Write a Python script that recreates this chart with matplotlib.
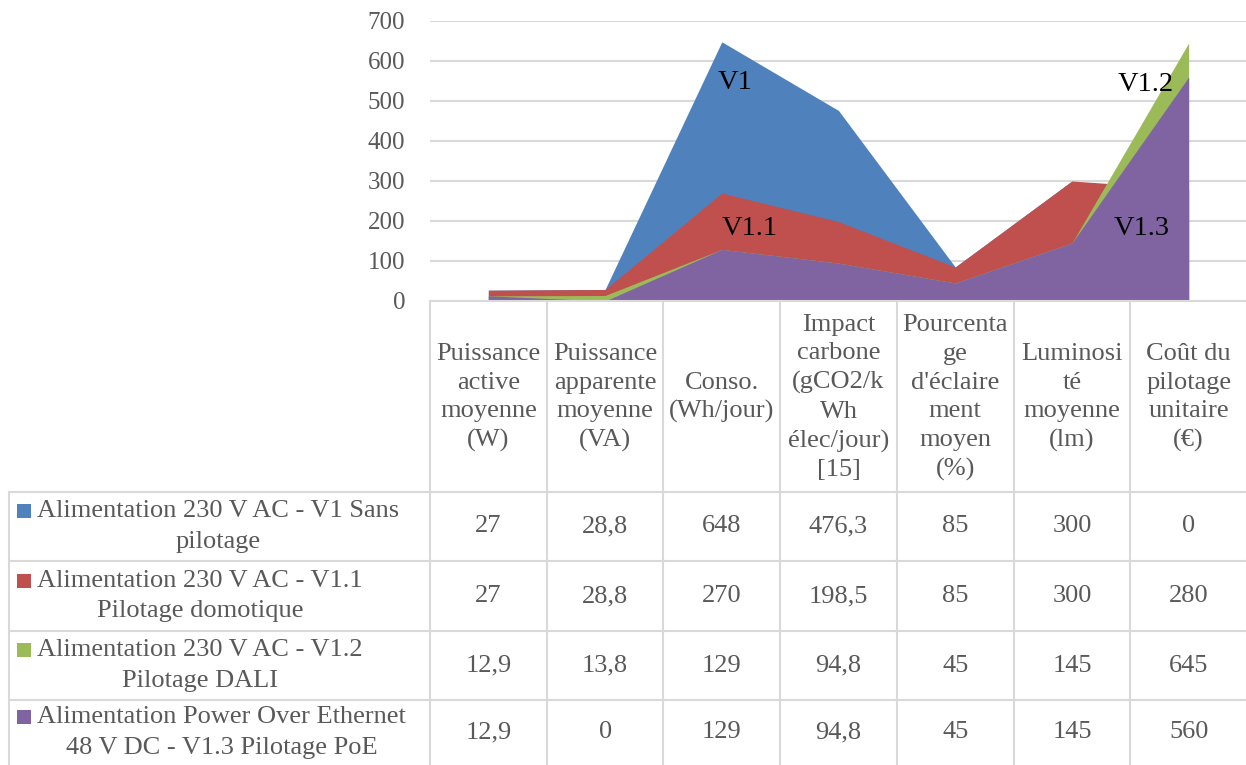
import matplotlib
matplotlib.use("Agg")
import matplotlib.pyplot as plt
import numpy as np

plt.rcParams['font.family'] = ['Liberation Serif', 'DejaVu Serif']

# ----------------------------
# Data
# ----------------------------
categories = ["Puissance\nactive\nmoyenne\n(W)",
              "Puissance\napparente\nmoyenne\n(VA)",
              "Conso.\n(Wh/jour)",
              "Impact\ncarbone\n(gCO2/k\nWh\nélec/jour)\n[15]",
              "Pourcenta\nge\nd'éclaire\nment\nmoyen\n(%)",
              "Luminosi\nté\nmoyenne\n(lm)",
              "Coût du\npilotage\nunitaire\n(€)"]

series_names = ["Alimentation 230 V AC - V1 Sans\npilotage",
                "Alimentation 230 V AC - V1.1\nPilotage domotique",
                "Alimentation 230 V AC - V1.2\nPilotage DALI",
                "Alimentation Power Over Ethernet\n48 V DC - V1.3 Pilotage PoE"]
short_names = ["V1", "V1.1", "V1.2", "V1.3"]

v1  = [27, 28.8, 648, 476.3, 85, 300, 0]
v11 = [27, 28.8, 270, 198.5, 85, 300, 280]
v12 = [12.9, 13.8, 129, 94.8, 45, 145, 645]
v13 = [12.9, 0, 129, 94.8, 45, 145, 560]
series = [v1, v11, v12, v13]

colors = ["#4F81BD", "#C0504D", "#9BBB59", "#8064A2"]
yticks = [0, 100, 200, 300, 400, 500, 600, 700]

# label positions for the in-chart series names (data coords)
label_pos = [(2.11, 547), (2.24, 180), (5.63, 540), (5.60, 182)]

# ----------------------------
# Layout (pixels)
# ----------------------------
W, H = 1246, 765
px_left, px_right, px_top, px_bottom = 430, 1247, 21, 301
tab_left = 9
row_lines = [492, 561, 631, 700, 765]
grid_col = "#D9D9D9"
txt_col = "#595959"
fs = 19

fig = plt.figure(figsize=(W / 100, H / 100), dpi=100)

# table overlay in pixel coordinates
tab = fig.add_axes([0, 0, 1, 1])
tab.set_xlim(0, W)
tab.set_ylim(H, 0)
tab.axis("off")

ax = fig.add_axes([px_left / W, 1 - px_bottom / H,
                   (px_right - px_left) / W, (px_bottom - px_top) / H])
ax.set_facecolor("none")

x = np.arange(len(categories))
for vals, c in zip(series, colors):
    ax.fill_between(x, 0, vals, color=c, linewidth=0, zorder=2)

for name, (lx, ly) in zip(short_names, label_pos):
    ax.text(lx, ly, name, fontsize=20.5, color="black", ha="center", va="center", zorder=5)

ax.set_xlim(-0.5, len(categories) - 0.5)
ax.set_ylim(0, 700)
ax.set_yticks(yticks)
ax.set_yticklabels([str(t) for t in yticks], color=txt_col, fontsize=18)
ax.set_xticks([])
ax.tick_params(axis="y", length=0, pad=18)
ax.grid(axis="y", color=grid_col, linewidth=1.5, zorder=0)
ax.set_axisbelow(True)
for s in ["top", "right", "left"]:
    ax.spines[s].set_visible(False)
ax.spines["bottom"].set_color(grid_col)
ax.spines["bottom"].set_linewidth(1.5)

# ----------------------------
# Data table
# ----------------------------
col_w = (px_right - px_left) / len(categories)
col_edges = [px_left + i * col_w for i in range(len(categories) + 1)]
col_centers = [px_left + (i + 0.5) * col_w for i in range(len(categories))]

lw = 1.5
for xe in col_edges:
    tab.plot([xe, xe], [px_bottom, H], color=grid_col, lw=lw)
tab.plot([tab_left, tab_left], [row_lines[0], H], color=grid_col, lw=lw)
for yr in row_lines[:-1]:
    tab.plot([tab_left, px_right], [yr, yr], color=grid_col, lw=lw)

head_mid = (px_bottom + row_lines[0]) / 2 + 1
for cx, cat in zip(col_centers, categories):
    tab.text(cx, head_mid, cat, ha="center", va="center", multialignment="center",
             fontsize=fs, color=txt_col, linespacing=1.39)

fmt = lambda v: f"{v:g}".replace(".", ",")
for i, (name, vals, c) in enumerate(zip(series_names, series, colors)):
    y0, y1 = row_lines[i], row_lines[i + 1]
    ym = (y0 + y1) / 2
    tab.text(37, ym, name, ha="left", va="center", multialignment="center",
             fontsize=fs, color=txt_col, linespacing=1.48)
    tab.add_patch(plt.Rectangle((17, ym - 22.5), 14, 14, color=c, lw=0))
    for cx, v in zip(col_centers, vals):
        tab.text(cx, ym, fmt(v), ha="center", va="center", fontsize=fs, color=txt_col)

fig.savefig("out.png", dpi=100)
